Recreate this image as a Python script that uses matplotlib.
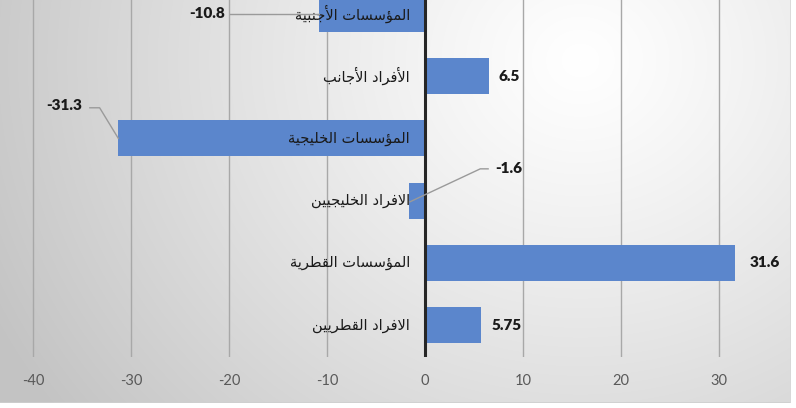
import numpy as np
import matplotlib
matplotlib.use("Agg")
import matplotlib.pyplot as plt

# ---------------- data ----------------
categories = ["الافراد القطريين", "المؤسسات القطرية", "الافراد الخليجيين",
              "المؤسسات الخليجية", "الأفراد الأجانب", "المؤسسات الأجنبية"]
values = [5.75, 31.6, -1.6, -31.3, 6.5, -10.8]
value_labels = ["5.75", "31.6", "-1.6", "-31.3", "6.5", "-10.8"]
xticks = [-40, -30, -20, -10, 0, 10, 20, 30]

# ---------------- minimal Arabic shaping (matplotlib has no shaping/bidi) ----------------
FORMS = {
    '\u0627': (0xFE8D, False), '\u0623': (0xFE83, False), '\u0625': (0xFE87, False),
    '\u0622': (0xFE81, False), '\u0624': (0xFE85, False), '\u0629': (0xFE93, False),
    '\u062F': (0xFEA9, False), '\u0631': (0xFEAD, False), '\u0648': (0xFEED, False),
    '\u0628': (0xFE8F, True), '\u062A': (0xFE95, True), '\u062C': (0xFE9D, True),
    '\u062E': (0xFEA5, True), '\u0633': (0xFEB1, True), '\u0637': (0xFEC1, True),
    '\u0641': (0xFED1, True), '\u0642': (0xFED5, True), '\u0644': (0xFEDD, True),
    '\u0645': (0xFEE1, True), '\u0646': (0xFEE5, True), '\u064A': (0xFEF1, True),
    '\u062D': (0xFEA1, True), '\u0647': (0xFEE9, True),
}
LAM_ALEF = {'\u0627': 0xFEFB, '\u0623': 0xFEF7, '\u0625': 0xFEF9, '\u0622': 0xFEF5}


def shape(text):
    seq = []
    i = 0
    while i < len(text):
        c = text[i]
        if c == '\u0644' and i + 1 < len(text) and text[i + 1] in LAM_ALEF:
            seq.append((LAM_ALEF[text[i + 1]], False))
            i += 2
            continue
        seq.append(FORMS.get(c, (c, None)))
        i += 1
    res = []
    for k, (b, d) in enumerate(seq):
        if d is None:
            res.append(b)
            continue
        prev = seq[k - 1] if k > 0 else None
        nxt = seq[k + 1] if k + 1 < len(seq) else None
        jp = prev is not None and prev[1] is True
        jn = d and nxt is not None and nxt[1] is not None
        if jp and jn:
            code = b + 3
        elif jp:
            code = b + 1
        elif jn:
            code = b + 2
        else:
            code = b
        res.append(chr(code))
    return ''.join(reversed(res))


# ---------------- figure ----------------
W, H = 796, 408
fig = plt.figure(figsize=(W / 100, H / 100), dpi=100)
fig.patch.set_facecolor('white')

# background radial gradient (chart area)
bg = fig.add_axes([0, 5 / H, 791 / W, 403 / H])
bg.set_axis_off()
yy, xx = np.mgrid[0:403, 0:791]
d = np.sqrt(((xx - 580) / 1.0) ** 2 + ((yy - 60) / 0.9) ** 2)
g = 255 - 58 * (d / 640) ** 1.15
g = np.clip(g, 195, 255) / 255.0
img = np.dstack([g, g, g])
bg.imshow(img, aspect='auto', extent=(0, 791, 403, 0), interpolation='bilinear')
bg.set_xlim(0, 791)
bg.set_ylim(403, 0)
bg.plot([0, 791], [402.5, 402.5], color='#cfcfcf', lw=1.2)
bg.plot([790.5, 790.5], [0, 403], color='#d8d8d8', lw=1.2)

# main axes
ax = fig.add_axes([0, (H - 357) / H, 790 / W, 357 / H])
ax.patch.set_alpha(0)
ypos = np.arange(len(categories))
ax.barh(ypos, values, height=0.58, color='#5b86cc', zorder=3)
ax.set_xlim(-425 / 9.8, 365 / 9.8)
ax.set_ylim(-0.51, 5.22)
ax.set_xticks(xticks)
ax.set_xticklabels([str(t) for t in xticks], fontfamily='Lato', fontsize=10.5, color='#595959')
ax.set_yticks([])
ax.tick_params(axis='x', length=0, pad=12)
for s in ax.spines.values():
    s.set_visible(False)
for t in xticks:
    if t != 0:
        ax.axvline(t, color='#a8a8a8', lw=1.0, zorder=1)
ax.axvline(0, color='#262626', lw=2.2, zorder=4)

# category labels next to the zero line
for i, c in enumerate(categories):
    ax.text(-1.55, i, shape(c), ha='right', va='center', fontsize=10.5,
            fontfamily='DejaVu Sans', color='#1a1a1a', zorder=5)

# data labels (layout offsets in data units)
dx = [1.09, 1.56, 8.74, -3.7, 0.95, -9.6]
dy = [0.0, 0.0, 0.51, 0.53, 0.0, 0.0]
for i, (v, lab) in enumerate(zip(values, value_labels)):
    tx, ty = v + dx[i], i + dy[i]
    ha = 'left' if dx[i] > 0 else 'right'
    ax.text(tx, ty, lab, ha=ha, va='center', fontsize=11, fontweight='heavy',
            fontfamily='Lato', color='#1a1a1a', zorder=6)

lc = '#9a9a9a'
# leader lines
i = 5
ax.plot([values[i] + dx[i] + 0.5, values[i]], [i, i], color=lc, lw=1, zorder=5)
i = 3
sx = values[i] + dx[i] + 0.8
ax.plot([sx, sx + 1.0, values[i]], [i + dy[i] - 0.04, i + dy[i] - 0.04, i], color=lc, lw=1, zorder=5)
i = 2
sx = values[i] + dx[i] - 0.7
ax.plot([sx, sx - 0.8, values[i] + 0.05], [i + dy[i], i + dy[i], i - 0.02], color=lc, lw=1, zorder=5)

fig.savefig('out.png', dpi=100)
